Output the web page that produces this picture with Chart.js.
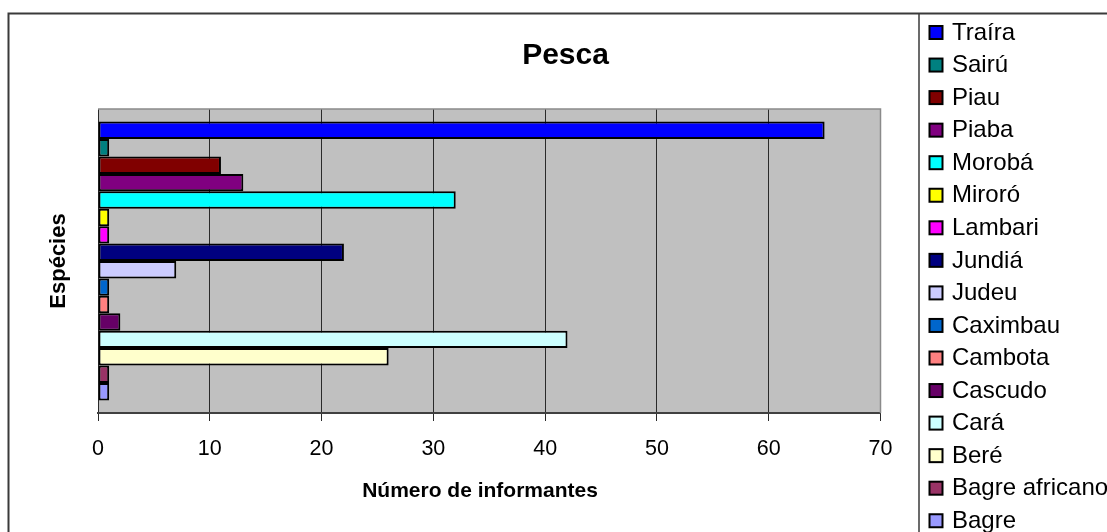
<!DOCTYPE html>
<html>
<head>
<meta charset="utf-8">
<script src="https://cdn.jsdelivr.net/npm/chart.js@4/dist/chart.umd.min.js"></script>
<style>
  html, body { margin: 0; padding: 0; background: #fff; overflow: hidden; }
  #wrap { width: 1107px; height: 532px; }
</style>
</head>
<body>
<div id="wrap"><canvas id="c" width="1107" height="532"></canvas></div>
<script>
// Species reported by fishing informants
const categories = ['Pesca'];
const species = ['Traíra', 'Sairú', 'Piau', 'Piaba', 'Morobá', 'Miroró', 'Lambari', 'Jundiá',
                 'Judeu', 'Caximbau', 'Cambota', 'Cascudo', 'Cará', 'Beré', 'Bagre africano', 'Bagre'];
const informants = [65, 1, 11, 13, 32, 1, 1, 22, 7, 1, 1, 2, 42, 26, 1, 1];
const barColors = ['#0000FF', '#008080', '#800000', '#800080', '#00FFFF', '#FFFF00', '#FF00FF', '#000080',
                   '#CCCCFF', '#0066CC', '#FF8080', '#660066', '#CCFFFF', '#FFFFCC', '#993366', '#9999FF'];
const xTicks = [0, 10, 20, 30, 40, 50, 60, 70];

const chartTitle = 'Pesca';
const xTitle = 'Número de informantes';
const yTitle = 'Espécies';

const FONT = "'Liberation Sans', Arial, sans-serif";

const datasets = species.map((name, i) => ({
  label: name,
  data: [informants[i]],
  backgroundColor: barColors[i],
  borderColor: '#000000',
  borderWidth: 2,
  borderSkipped: false,
  barPercentage: 1,
  categoryPercentage: 0.917
}));

// Grey plot background, outer frame, titles and the side legend
const decorations = {
  id: 'decorations',
  beforeDraw(chart) {
    const { ctx, chartArea: a } = chart;
    ctx.save();
    ctx.fillStyle = '#ffffff';
    ctx.fillRect(0, 0, chart.width, chart.height);
    ctx.fillStyle = '#C0C0C0';
    ctx.fillRect(a.left, a.top, a.right - a.left, a.bottom - a.top);
    ctx.restore();
  },
  afterDraw(chart) {
    const { ctx, chartArea: a } = chart;
    ctx.save();

    // plot top and right edges
    ctx.strokeStyle = '#8a8a8a';
    ctx.lineWidth = 1.5;
    ctx.beginPath();
    ctx.moveTo(a.left, a.top);
    ctx.lineTo(a.right, a.top);
    ctx.lineTo(a.right, a.bottom);
    ctx.stroke();

    // outer frame and legend separator
    ctx.strokeStyle = '#3a3a3a';
    ctx.lineWidth = 2;
    ctx.beginPath();
    ctx.moveTo(8.5, chart.height);
    ctx.lineTo(8.5, 13.5);
    ctx.lineTo(chart.width, 13.5);
    ctx.stroke();
    ctx.lineWidth = 1.5;
    ctx.beginPath();
    ctx.moveTo(919, 13.5);
    ctx.lineTo(919, chart.height);
    ctx.stroke();

    // titles
    ctx.fillStyle = '#000000';
    ctx.textBaseline = 'alphabetic';
    ctx.textAlign = 'center';
    ctx.font = 'bold 30px ' + FONT;
    ctx.fillText(chartTitle, 565.5, 63.5);
    ctx.font = 'bold 21px ' + FONT;
    ctx.fillText(xTitle, 480, 497);
    ctx.save();
    ctx.translate(65, 261);
    ctx.rotate(-Math.PI / 2);
    ctx.font = 'bold 22px ' + FONT;
    ctx.fillText(yTitle, 0, 0);
    ctx.restore();

    // legend
    ctx.textAlign = 'left';
    ctx.font = '24px ' + FONT;
    chart.data.datasets.forEach((ds, i) => {
      const yc = 31.5 + i * 32.55;
      ctx.fillStyle = ds.backgroundColor;
      ctx.fillRect(929.5, yc - 5.5, 13, 13);
      ctx.strokeStyle = '#000000';
      ctx.lineWidth = 2;
      ctx.strokeRect(929.5, yc - 5.5, 13, 13);
      ctx.fillStyle = '#000000';
      ctx.fillText(ds.label, 952, yc + 8.2);
    });
    ctx.restore();
  }
};

new Chart(document.getElementById('c'), {
  type: 'bar',
  data: { labels: categories, datasets },
  plugins: [decorations],
  options: {
    indexAxis: 'y',
    responsive: false,
    animation: false,
    devicePixelRatio: 1,
    layout: { padding: { left: 98, top: 109, right: 226.5, bottom: 0 } },
    plugins: {
      legend: { display: false },
      title: { display: false },
      tooltip: { enabled: false }
    },
    scales: {
      x: {
        min: 0,
        max: 70,
        afterBuildTicks(scale) { scale.ticks = xTicks.map(v => ({ value: v })); },
        afterFit(scale) { scale.height = 119; },
        ticks: {
          color: '#000000',
          font: { family: FONT, size: 21.5 },
          padding: 15,
          maxRotation: 0
        },
        grid: {
          color: '#2a2a2a',
          lineWidth: 1,
          tickLength: 8,
          drawOnChartArea: true,
          drawTicks: true
        },
        border: { color: '#404040', width: 2 }
      },
      y: { display: false }
    }
  }
});
</script>
</body>
</html>
